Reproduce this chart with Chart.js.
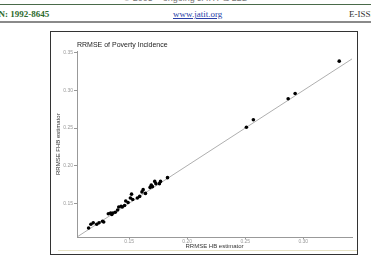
<!DOCTYPE html>
<html>
<head>
<meta charset="utf-8">
<script src="https://cdn.jsdelivr.net/npm/chart.js@4/dist/chart.umd.min.js"></script>
<style>
  html, body { margin: 0; padding: 0; width: 371px; height: 261px; overflow: hidden; background: #fff; }
  .copy { position: absolute; top: -7px; left: 0; width: 371px; text-align: center; font: 9px "Liberation Sans", Arial, sans-serif; color: #777; }
  .topline { position: absolute; top: 4px; left: 0; width: 371px; height: 1px; background: #4a6a4a; }
  .hdr { position: absolute; top: 9px; font: 9px "Liberation Serif", "Times New Roman", serif; }
  .issn { left: -15px; color: #2e6b2e; font-weight: bold; }
  .web { left: 173px; color: #2a3fa8; text-decoration: underline; }
  .eissn { left: 349px; color: #333; white-space: nowrap; }
  .rule { position: absolute; top: 21px; left: 0; width: 371px; height: 2px; background: #8a8a8a; }
  .box { position: absolute; left: 50px; top: 31px; width: 306px; height: 222px; border: 1.5px solid #333; }
  .beige { position: absolute; left: 58px; top: 250px; width: 299px; height: 1px; background: #e6e2c4; }
  #wrap { position: absolute; left: 52px; top: 33px; width: 304px; height: 219px; }
</style>
</head>
<body>
<div class="copy">© 2005 – ongoing JATIT &amp; LLS</div>
<div class="topline"></div>
<div class="hdr issn">ISSN: 1992-8645</div>
<div class="hdr web">www.jatit.org</div>
<div class="hdr eissn">E-ISSN: 1817-3195</div>
<div class="rule"></div>
<div class="box"></div>
<div id="wrap"><canvas id="chart-scatter"></canvas></div>
<div class="beige"></div>
<script>
// RRMSE of the HB estimator (x) against the FHB estimator (y)
var hbValues = [0.115, 0.117, 0.119, 0.122, 0.124, 0.127, 0.128, 0.132, 0.134, 0.135,
                0.136, 0.138, 0.140, 0.141, 0.143, 0.144, 0.146, 0.147, 0.149, 0.151,
                0.153, 0.152, 0.157, 0.159, 0.161, 0.162, 0.164, 0.168, 0.169, 0.170,
                0.172, 0.173, 0.176, 0.177, 0.183, 0.251, 0.257, 0.287, 0.293, 0.331];
var fhbValues = [0.117, 0.122, 0.124, 0.122, 0.124, 0.126, 0.125, 0.136, 0.137, 0.135,
                 0.137, 0.138, 0.141, 0.145, 0.146, 0.145, 0.147, 0.153, 0.151, 0.157,
                 0.155, 0.162, 0.157, 0.159, 0.165, 0.168, 0.163, 0.171, 0.174, 0.172,
                 0.179, 0.176, 0.176, 0.179, 0.184, 0.251, 0.261, 0.289, 0.296, 0.339];
var xTicks = [0.15, 0.20, 0.25, 0.30];
var yTicks = [0.15, 0.20, 0.25, 0.30, 0.35];
var refLine = [0.105, 0.345];   // y = x

var points = hbValues.map(function (v, i) { return { x: v, y: fhbValues[i] }; });
var diag = refLine.map(function (v) { return { x: v, y: v }; });

var tickFont = { size: 5, family: "Liberation Sans", lineHeight: 1 };
var titleFont = { size: 6, family: "Liberation Sans" };

var ctx = document.getElementById("chart-scatter").getContext("2d");
new Chart(ctx, {
    type: "scatter",
    data: {
        datasets: [{
            label: "areas",
            data: points,
            backgroundColor: "#000",
            borderColor: "#000",
            pointRadius: 1.8,
            pointBorderWidth: 0,
        }, {
            type: "line",
            label: "y = x",
            data: diag,
            borderColor: "#9a9a9a",
            borderWidth: 0.8,
            pointRadius: 0,
            fill: false,
        }],
    },
    options: {
        responsive: true,
        maintainAspectRatio: false,
        animation: false,
        layout: { padding: { left: 0, right: 1, top: 0, bottom: 0 } },
        plugins: {
            legend: { display: false },
            tooltip: { enabled: false },
            title: {
                display: true,
                text: "RRMSE of Poverty Incidence",
                align: "start",
                fullSize: false,
                color: "#222",
                font: { size: 7, family: "Liberation Sans", weight: "normal" },
                padding: { top: 8, bottom: 2 },
            },
        },
        scales: {
            x: {
                type: "linear",
                min: 0.105,
                max: 0.342,
                afterBuildTicks: function (s) { s.ticks = xTicks.map(function (v) { return { value: v }; }); },
                afterFit: function (s) { s.height = 15; },
                border: { display: true, color: "#999", width: 1 },
                grid: { display: true, drawOnChartArea: false, drawTicks: true, tickLength: 2, color: "#999" },
                ticks: { color: "#999", font: tickFont, padding: 0, maxRotation: 0,
                         callback: function (v) { return v.toFixed(2); } },
                title: { display: true, text: "RRMSE HB estimator", color: "#333", font: titleFont,
                         padding: { top: 0, bottom: 2.4 } },
            },
            y: {
                type: "linear",
                min: 0.105,
                max: 0.352,
                afterBuildTicks: function (s) { s.ticks = yTicks.map(function (v) { return { value: v }; }); },
                afterFit: function (s) { s.width = 25; },
                border: { display: true, color: "#999", width: 1 },
                grid: { display: true, drawOnChartArea: false, drawTicks: true, tickLength: 3, color: "#999" },
                ticks: { color: "#999", font: tickFont, padding: 1,
                         callback: function (v) { return v.toFixed(2); } },
                title: { display: true, text: "RRMSE FHB estimator", color: "#333", font: titleFont,
                         padding: { top: 3, bottom: 0 } },
            },
        },
    },
});
</script>
</body>
</html>
